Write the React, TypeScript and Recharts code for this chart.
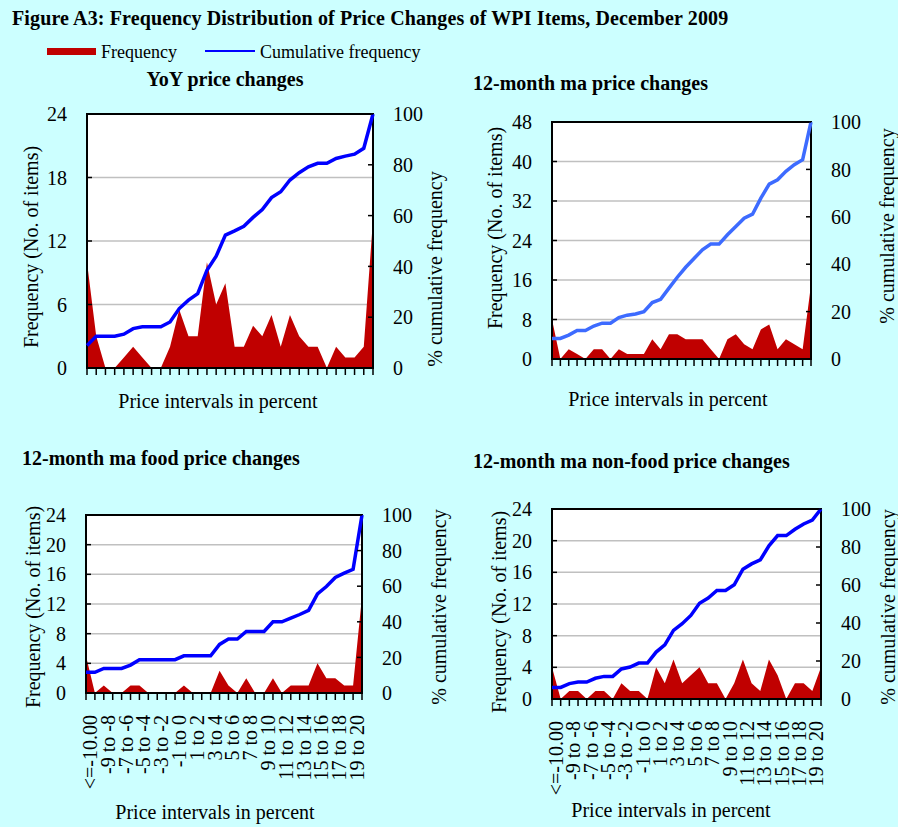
import { ComposedChart, Area, Line, XAxis, YAxis, CartesianGrid, ReferenceArea } from 'recharts';

const categories = [
  '<=-10.00', '-10 to -9', '-9 to -8', '-8 to -7', '-7 to -6', '-6 to -5', '-5 to -4', '-4 to -3',
  '-3 to -2', '-2 to -1', '-1 to 0', '0 to 1', '1 to 2', '2 to 3', '3 to 4', '4 to 5',
  '5 to 6', '6 to 7', '7 to 8', '8 to 9', '9 to 10', '10 to 11', '11 to 12', '12 to 13',
  '13 to 14', '14 to 15', '15 to 16', '16 to 17', '17 to 18', '18 to 19', '19 to 20', '>20'
];

// YoY price changes
const yoyFreq = [10, 3, 0, 0, 1, 2, 1, 0, 0, 2, 5.5, 3, 3, 10, 6, 8, 2, 2, 4, 3, 5, 2, 5, 3, 2, 2, 0, 2, 1, 1, 2, 14];
const yoyCum = [8.9, 12.5, 12.5, 12.5, 13.3, 15.5, 16.2, 16.2, 16.2, 18.1, 23.4, 26.7, 29.3, 38.5, 44.0, 52.3,
  54.0, 55.8, 59.3, 62.4, 67.1, 69.4, 74.0, 76.9, 79.2, 80.6, 80.6, 82.5, 83.4, 84.2, 86.5, 100];

// 12-month ma price changes
const maFreq = [8, 0, 2, 1, 0, 2, 2, 0, 2, 1, 1, 1, 4, 2, 5, 5, 4, 4, 4, 2, 0, 4, 5, 3, 2, 6, 7, 2, 4, 3, 2, 15];
const maCum = [8.7, 8.7, 10.1, 12.0, 12.0, 13.9, 15.1, 15.1, 17.5, 18.5, 19.0, 20.0, 23.8, 25.2, 29.9, 34.5,
  38.7, 42.4, 46.1, 48.5, 48.5, 52.4, 55.9, 59.4, 61.1, 67.9, 73.8, 75.6, 79.2, 82.0, 84.1, 100];

// 12-month ma food price changes
const foodFreq = [5, 0, 1, 0, 0, 1, 1, 0, 0, 0, 0, 1, 0, 0, 0, 3, 1, 0, 2, 0, 0, 2, 0, 1, 1, 1, 4, 2, 2, 1, 1, 13];
const foodCum = [11.6, 11.6, 13.8, 13.8, 13.8, 15.7, 18.7, 18.7, 18.7, 18.7, 18.7, 20.9, 20.9, 20.9, 20.9, 27.3,
  30.3, 30.3, 34.6, 34.6, 34.6, 40.0, 40.0, 42.1, 44.1, 46.4, 55.7, 59.8, 64.9, 67.3, 69.5, 100];

// 12-month ma non-food price changes
const nonFoodFreq = [4, 0, 1, 1, 0, 1, 1, 0, 2, 1, 1, 0, 4, 2, 5, 2, 3, 4, 2, 2, 0, 2, 5, 2, 1, 5, 3, 0, 2, 2, 1, 4];
const nonFoodCum = [6.1, 6.1, 8.1, 8.9, 8.9, 10.9, 11.9, 11.9, 15.8, 16.8, 18.9, 18.9, 24.7, 28.5, 36.1, 39.6,
  44.0, 50.4, 53.1, 57.1, 57.1, 60.1, 68.3, 71.1, 73.2, 80.6, 86.0, 86.0, 89.3, 92.1, 94.2, 100];

const ticksBy6 = [0, 6, 12, 18, 24];
const ticksBy8 = [0, 8, 16, 24, 32, 40, 48];
const ticksBy4 = [0, 4, 8, 12, 16, 20, 24];
const cumTicks = [0, 20, 40, 60, 80, 100];

const FONT = "'Liberation Serif', 'Times New Roman', serif";
const RED = '#C00000';
const BLUE = '#0000FF';

type Box = { x0: number; y0: number; x1: number; y1: number };

const Panel = ({ freq, cum, freqTicks, box, lineColor, showLabels }: {
  freq: number[]; cum: number[]; freqTicks: number[]; box: Box; lineColor: string; showLabels: boolean;
}) => {
  const xh = showLabels ? 105 : 20;
  const width = box.x1 - box.x0 + 120;
  const height = box.y1 - box.y0 + 10 + xh;
  const freqMax = freqTicks[freqTicks.length - 1];
  const data = categories.map((cat, i) => ({ cat, freq: freq[i], cum: cum[i] }));

  // labels only on every other category, the last one (>20) unlabelled
  const renderTick = (props: any) => {
    const { x, y, payload } = props;
    const idx = categories.indexOf(payload.value);
    if (!showLabels || idx % 2 !== 0 || idx > 30) return <g />;
    return (
      <text transform={`translate(${x + 11},${y}) rotate(-90)`} textAnchor="end"
        fontSize={20} fontFamily={FONT} fill="#000">
        {payload.value}
      </text>
    );
  };

  const yTick = { fontSize: 20, fill: '#000', fontFamily: FONT };

  return (
    <div style={{ position: 'absolute', left: box.x0 - 60, top: box.y0 - 10 }}>
      <ComposedChart width={width} height={height} data={data}
        margin={{ top: 10, right: 0, bottom: 0, left: 0 }}>
        <CartesianGrid yAxisId="left" vertical={false} stroke="#C0C0C0" strokeWidth={1.5}
          fill="#FFFFFF" fillOpacity={1} />
        <XAxis dataKey="cat" scale="point" interval={0} height={xh} axisLine={false}
          tickLine={{ stroke: '#000', strokeWidth: 1.5 }} tickSize={7} tickMargin={15} tick={renderTick} />
        <YAxis yAxisId="left" domain={[0, freqMax]} ticks={freqTicks} interval={0} width={60}
          axisLine={false} tickLine={{ stroke: '#000', strokeWidth: 1.5 }} tickSize={-5} tickMargin={25}
          tick={yTick} />
        <YAxis yAxisId="right" orientation="right" domain={[0, 100]} ticks={cumTicks} interval={0} width={60}
          axisLine={false} tickLine={{ stroke: '#000', strokeWidth: 1.5 }} tickSize={-5} tickMargin={25}
          tick={yTick} />
        <Area yAxisId="left" type="linear" dataKey="freq" fill={RED} fillOpacity={1} stroke="none"
          dot={false} activeDot={false} isAnimationActive={false} />
        <Line yAxisId="right" type="linear" dataKey="cum" stroke={lineColor} strokeWidth={3.5}
          dot={false} activeDot={false} isAnimationActive={false} />
        <ReferenceArea yAxisId="left" y1={0} y2={freqMax} fill="none" stroke="#000" strokeWidth={2}
          ifOverflow="visible" />
      </ComposedChart>
    </div>
  );
};

const rotated = (x: number, y: number, text: string) => (
  <text transform={`translate(${x},${y}) rotate(-90)`} textAnchor="middle" dominantBaseline="central"
    fontSize={20}>
    {text}
  </text>
);

const App = () => {
  return (
    <div style={{ position: 'fixed', left: 0, top: 0, width: 898, height: 827, background: '#CCFFFF', overflow: 'hidden' }}>
      <Panel freq={yoyFreq} cum={yoyCum} freqTicks={ticksBy6} lineColor={BLUE} showLabels={false}
        box={{ x0: 87, y0: 114, x1: 373, y1: 368 }} />
      <Panel freq={maFreq} cum={maCum} freqTicks={ticksBy8} lineColor="#3D6BFF" showLabels={false}
        box={{ x0: 552, y0: 122, x1: 811, y1: 359 }} />
      <Panel freq={foodFreq} cum={foodCum} freqTicks={ticksBy4} lineColor={BLUE} showLabels={true}
        box={{ x0: 86, y0: 515, x1: 362, y1: 693 }} />
      <Panel freq={nonFoodFreq} cum={nonFoodCum} freqTicks={ticksBy4} lineColor={BLUE} showLabels={true}
        box={{ x0: 552, y0: 509, x1: 821, y1: 699 }} />

      <svg width={898} height={827} style={{ position: 'absolute', left: 0, top: 0, pointerEvents: 'none' }}
        fontFamily={FONT} fill="#000">
        <text x={12} y={25} fontSize={20} fontWeight="bold" letterSpacing={0.13}>
          Figure A3: Frequency Distribution of Price Changes of WPI Items, December 2009
        </text>
        <rect x={47} y={48} width={49} height={7} fill={RED} />
        <text x={101} y={58} fontSize={18}>Frequency</text>
        <line x1={205} y1={51} x2={255} y2={51} stroke={BLUE} strokeWidth={2} />
        <text x={260} y={58} fontSize={18}>Cumulative frequency</text>

        <text x={225} y={86} fontSize={20} fontWeight="bold" textAnchor="middle">YoY price changes</text>
        <text x={473} y={90} fontSize={20} fontWeight="bold">12-month ma price changes</text>
        <text x={22} y={465} fontSize={20} fontWeight="bold">12-month ma food price changes</text>
        <text x={473} y={468} fontSize={20} fontWeight="bold">12-month ma non-food price changes</text>

        {rotated(31, 247, 'Frequency (No. of items)')}
        {rotated(435, 269, '% cumulative frequency')}
        {rotated(495, 228, 'Frequency (No. of items)')}
        {rotated(887, 226, '% cumulative frequency')}
        {rotated(33, 607, 'Frequency (No. of items)')}
        {rotated(439, 607, '% cumulative frequency')}
        {rotated(499, 612, 'Frequency (No. of items)')}
        {rotated(888, 607, '% cumulative frequency')}

        <text x={218} y={401} fontSize={20} textAnchor="middle" dominantBaseline="central">Price intervals in percent</text>
        <text x={668} y={399} fontSize={20} textAnchor="middle" dominantBaseline="central">Price intervals in percent</text>
        <text x={215} y={812} fontSize={20} textAnchor="middle" dominantBaseline="central">Price intervals in percent</text>
        <text x={671} y={810} fontSize={20} textAnchor="middle" dominantBaseline="central">Price intervals in percent</text>
      </svg>
    </div>
  );
};

export default App;
